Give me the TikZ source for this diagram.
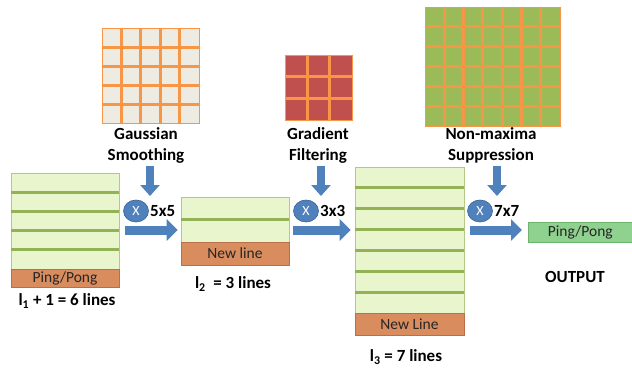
\documentclass[tikz,border=0pt]{standalone}
\usepackage{fontspec}
\setmainfont{Carlito}
\usetikzlibrary{arrows.meta,shapes.geometric}
\definecolor{gridorange}{HTML}{F79646}
\definecolor{gridbeige}{HTML}{EEECE2}
\definecolor{gridred}{HTML}{C0504D}
\definecolor{gridgreen}{HTML}{9BBB59}
\definecolor{flowblue}{HTML}{4F81BD}
\definecolor{flowblueedge}{HTML}{3A6396}
\definecolor{stripefill}{HTML}{E9F6CD}
\definecolor{stripeline}{HTML}{93B256}
\definecolor{barorange}{HTML}{D98C5E}
\definecolor{baredge}{HTML}{B8704A}
\definecolor{outgreen}{HTML}{8FD18F}
\definecolor{outedge}{HTML}{6DB56D}
\tikzset{
  gridline/.style={gridorange, line width=3pt},
  gridedge/.style={gridorange, line width=0.8pt},
  lbl/.style={font=\bfseries\fontsize{17}{21}\selectfont, align=center, inner sep=0pt},
  sizelbl/.style={font=\bfseries\fontsize{17}{20}\selectfont, inner sep=0pt},
  bufline/.style={stripeline, line width=3pt},
  bufedge/.style={stripeline!70, line width=0.8pt},
  barbox/.style={draw=baredge, fill=barorange, line width=0.6pt, inner sep=0pt,
    font=\fontsize{15.5}{18}\selectfont, text=black!85},
  outbox/.style={draw=outedge, fill=outgreen, line width=0.6pt, inner sep=0pt,
    font=\fontsize{15.5}{18}\selectfont, text=black!85},
  mulop/.style={ellipse, draw=flowblueedge, fill=flowblue, line width=0.6pt,
    minimum width=25pt, minimum height=22pt, inner sep=0pt, text=white,
    font=\fontsize{14}{16}\selectfont},
  flowright/.style={flowblue, line width=9pt,
    -{Triangle[width=21pt,length=11pt]}},
  flowdown/.style={flowblue, line width=8pt,
    -{Triangle[width=19pt,length=11pt]}},
}
\begin{document}
\begin{tikzpicture}[x=1pt,y=-1pt]
\useasboundingbox (0,0) rectangle (632,367);

% ---- convolution kernels ----
% 5x5 Gaussian kernel
\fill[gridbeige] (102,28) rectangle (199,123);
\foreach \i in {1,...,4} {
  \draw[gridline] ({102+\i*97/5},28) -- ({102+\i*97/5},123);
  \draw[gridline] (102,{28+\i*95/5}) -- (199,{28+\i*95/5});
}
\draw[gridedge] (102,28) rectangle (199,123);

% 3x3 gradient kernel
\fill[gridred] (285,55) rectangle (352,120);
\foreach \i in {1,2} {
  \draw[gridline] ({285+\i*67/3},55) -- ({285+\i*67/3},120);
  \draw[gridline] (285,{55+\i*65/3}) -- (352,{55+\i*65/3});
}
\draw[gridedge] (285,55) rectangle (352,120);

% 7x6 non-maxima kernel
\fill[gridgreen] (425,7) rectangle (560,126);
\foreach \i in {1,...,6}
  \draw[gridline] ({425+\i*135/7},7) -- ({425+\i*135/7},126);
\foreach \i in {1,...,5}
  \draw[gridline] (425,{7+\i*119/6}) -- (560,{7+\i*119/6});
\draw[gridedge] (425,7) rectangle (560,126);

% ---- stage captions ----
\node[lbl] (gauss) at (146,145) {Gaussian\\Smoothing};
\node[lbl] (grad)  at (318,145) {Gradient\\Filtering};
\node[lbl] (nms)   at (491,145) {Non-maxima\\Suppression};

\coordinate (gd) at (150,196);
\coordinate (rd) at (321,196);
\coordinate (nd) at (497,196);
\draw[flowdown] ([yshift=-3pt]gauss.south -| gd) -- (gd);
\draw[flowdown] ([yshift=-3pt]grad.south -| rd) -- (rd);
\draw[flowdown] ([yshift=-3pt]nms.south -| nd) -- (nd);

% ---- line buffers ----
% buffer 1: 5 lines + ping/pong
\fill[stripefill] (11,173) rectangle (119,269);
\draw[bufedge] (11,269) -- (11,173) -- (119,173) -- (119,269);
\foreach \k in {1,...,4}
  \draw[bufline] (11,{173+\k*19.2}) -- (119,{173+\k*19.2});
\node[barbox, minimum width=108pt, minimum height=18pt] (pp1) at (65,278) {Ping/Pong};

% buffer 2: 2 lines + new line
\fill[stripefill] (181,197) rectangle (289,242);
\draw[bufedge] (181,242) -- (181,197) -- (289,197) -- (289,242);
\draw[bufline] (181,219.5) -- (289,219.5);
\node[barbox, minimum width=108pt, minimum height=23pt] (nl2) at (235,253.5) {New line};

% buffer 3: 6 lines + new line
\fill[stripefill] (355,167) rectangle (464,313);
\draw[bufedge] (355,313) -- (355,167) -- (464,167) -- (464,313);
\foreach \k in {1,...,6}
  \draw[bufline] (355,{167+\k*146/7}) -- (464,{167+\k*146/7});
\node[barbox, minimum width=109pt, minimum height=22pt] (nl3) at (409.5,324) {New Line};

% output line
\node[outbox, minimum width=104pt, minimum height=20pt, anchor=west] (out) at (528,232) {Ping/Pong};

% ---- buffer sizes ----
\node[lbl] (sz1) at (67,301) {l\textsubscript{1} + 1 = 6 lines};
\node[lbl] (sz2) at (233,284) {l\textsubscript{2}\ \ = 3 lines};
\node[lbl] (sz3) at (406,357) {l\textsubscript{3} = 7 lines};
\node[lbl] (outlbl) at (575,277) {OUTPUT};

% ---- multiply stages ----
\node[mulop] (m1) at (136,211) {X};
\node[mulop] (m2) at (306,211) {X};
\node[mulop] (m3) at (480,211) {X};
\node[sizelbl, anchor=west] (k1) at (150,211) {5x5};
\node[sizelbl, anchor=west] (k2) at (320,211) {3x3};
\node[sizelbl, anchor=west] (k3) at (494,211) {7x7};

\coordinate (a1s) at (125,230);
\coordinate (a2s) at (293,230);
\coordinate (a3s) at (470,230);
\draw[flowright] (a1s) -- ([xshift=-3pt]a1s -| nl2.west);
\draw[flowright] (a2s) -- ([xshift=-4pt]a2s -| nl3.west);
\draw[flowright] (a3s) -- ([xshift=-6pt]a3s -| out.west);
\end{tikzpicture}
\end{document}
